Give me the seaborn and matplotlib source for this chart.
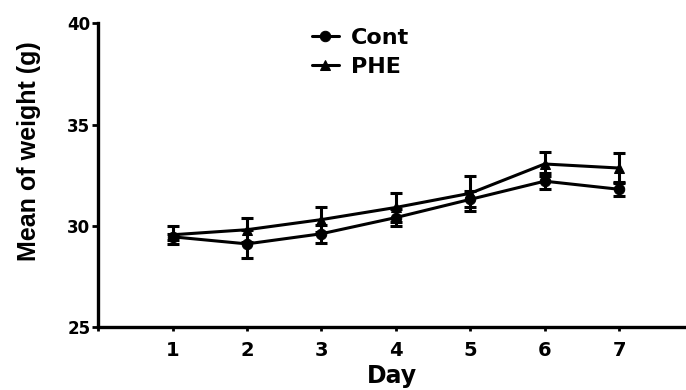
import numpy as np
import pandas as pd
import seaborn as sns
import matplotlib
matplotlib.use("Agg")
import matplotlib.pyplot as plt

# values (mean +/- SEM)
days = [1, 2, 3, 4, 5, 6, 7]
cont_mean = [29.45, 29.1, 29.6, 30.4, 31.3, 32.2, 31.8]
cont_err = [0.15, 0.7, 0.45, 0.4, 0.4, 0.4, 0.35]
phe_mean = [29.55, 29.8, 30.3, 30.9, 31.6, 33.05, 32.85]
phe_err = [0.45, 0.6, 0.6, 0.7, 0.85, 0.6, 0.75]

df = pd.DataFrame({
    "Day": days * 2,
    "weight": cont_mean + phe_mean,
    "group": ["Cont"] * len(days) + ["PHE"] * len(days),
})

sns.set_style("ticks", {"axes.edgecolor": "black", "text.color": "black",
                        "axes.labelcolor": "black", "xtick.color": "black",
                        "ytick.color": "black"})
plt.rcParams["font.family"] = ["DejaVu Sans"]
plt.rcParams["font.weight"] = "bold"

fig = plt.figure(figsize=(6.86, 3.90), dpi=100)
ax = fig.add_axes([0.143, 0.162, 0.857, 0.778])

sns.lineplot(data=df, x="Day", y="weight", hue="group", style="group",
             markers={"Cont": "o", "PHE": "^"}, dashes=False,
             palette={"Cont": "black", "PHE": "black"},
             linewidth=2.2, markersize=7.5, markeredgecolor="black", ax=ax)

ax.errorbar(days, cont_mean, yerr=cont_err, fmt="none", ecolor="black",
            elinewidth=2.2, capsize=4.5, capthick=2.2)
ax.errorbar(days, phe_mean, yerr=phe_err, fmt="none", ecolor="black",
            elinewidth=2.2, capsize=4.5, capthick=2.2)

ax.set_xlim(0, 7.9)
ax.set_ylim(25, 40)
ax.set_xticks(range(0, 8))
ax.set_xticklabels([""] + [str(d) for d in days], fontsize=14, fontweight="bold")
ax.set_yticks([25, 30, 35, 40])
ax.set_yticklabels(["25", "30", "35", "40"], fontsize=12, fontweight="bold")

for s in ["top", "right"]:
    ax.spines[s].set_visible(False)
for s in ["left", "bottom"]:
    ax.spines[s].set_linewidth(2.4)
    ax.spines[s].set_color("black")

ax.tick_params(axis="both", width=2, color="black", labelcolor="black")
ax.tick_params(axis="x", length=3, pad=7)
ax.tick_params(axis="y", length=4, pad=1.5)

ax.set_xlabel("Day", fontsize=17, fontweight="bold", labelpad=3, color="black")
ax.set_ylabel("Mean of weight (g)", fontsize=18, fontweight="bold",
              family="Liberation Sans", color="black")
ax.yaxis.set_label_coords(-0.097, 0.578)

leg = ax.legend(loc="center left", bbox_to_anchor=(0.33, 0.905), frameon=False,
                prop={"size": 16, "weight": "bold"}, handlelength=1.2,
                handletextpad=0.55, labelspacing=0.42)
for h in leg.legend_handles:
    h.set_linewidth(2.2)
for t in leg.get_texts():
    t.set_color("black")

fig.savefig("out.png", dpi=100)
